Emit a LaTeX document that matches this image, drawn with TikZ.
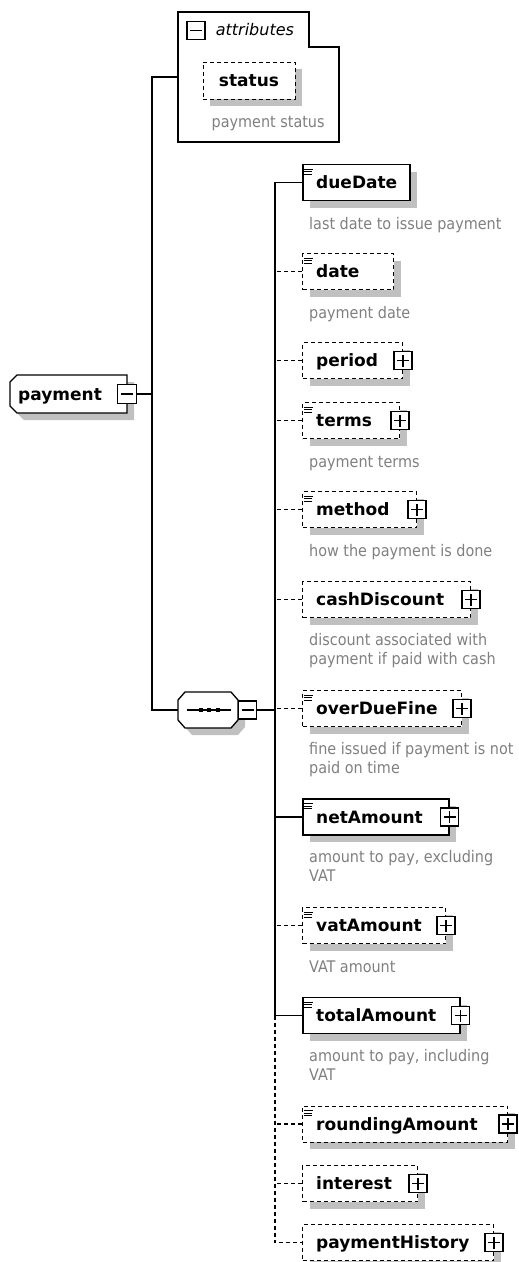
\documentclass[tikz,border=0pt]{standalone}
\usepackage{fontspec}
\setmainfont{DejaVu Sans}
\newfontfamily\condfont{DejaVu Sans Condensed}
\usepackage{tikz}
\usetikzlibrary{positioning,shadows}

\definecolor{shadowgray}{HTML}{C0C0C0}
\definecolor{doctext}{HTML}{808080}

\begin{document}
\begin{tikzpicture}[
    x=1pt, y=-1pt,
    shadowed/.style={drop shadow={shadow xshift=7pt, shadow yshift=-7pt, fill=shadowgray, opacity=1}},
    box/.style={rectangle, fill=white, shadowed, inner sep=0pt, minimum height=36pt, anchor=west},
    elem/.style={box, draw, line width=1.8pt},
    optelem/.style={box, draw, dash pattern=on 4pt off 3pt, line width=1pt},
    docicon/.style={path picture={
        \draw[solid, line width=0.9pt] ([shift={(1.5pt,-4.5pt)}]path picture bounding box.north west) -- ++(8.5pt,0pt);
        \draw[solid, line width=0.9pt] ([shift={(1.5pt,-7.2pt)}]path picture bounding box.north west) -- ++(7.5pt,0pt);
        \draw[solid, line width=0.9pt] ([shift={(1.5pt,-9.9pt)}]path picture bounding box.north west) -- ++(7.5pt,0pt);}},
    elemname/.style={font=\fontsize{17}{20}\selectfont\bfseries, inner sep=0pt, text height=12.4pt, text depth=0pt},
    elemdoc/.style={font=\condfont\fontsize{16}{19}\selectfont, text=doctext, inner sep=0pt, align=left, execute at begin node=\strut},
    pmbox/.style={rectangle, draw, solid, fill=white, line width=1.3pt, minimum size=18pt, inner sep=0pt},
    plusbox/.style={pmbox, path picture={
        \draw[solid, line width=1.2pt] ([xshift=-6pt]path picture bounding box.center) -- ([xshift=6pt]path picture bounding box.center);
        \draw[solid, line width=1.2pt] ([yshift=-6pt]path picture bounding box.center) -- ([yshift=6pt]path picture bounding box.center);}},
    minusbox/.style={pmbox, path picture={
        \draw[solid, line width=1.2pt] ([xshift=-6pt]path picture bounding box.center) -- ([xshift=6pt]path picture bounding box.center);}},
    frame/.style={rectangle, inner sep=0pt, outer sep=0pt},
    outline/.style={draw, fill=white, shadowed, line width=1.3pt},
    link/.style={line width=1.3pt},
    optlink/.style={link, dash pattern=on 4pt off 3pt},
    attrtitle/.style={font=\fontsize{16}{19}\selectfont\itshape, inner sep=0pt, text height=12pt, text depth=3pt}
  ]
    \useasboundingbox (0,0) rectangle (519,1262);

    % attribute group
    \node[frame, minimum width=161pt, minimum height=130pt, anchor=north west] (attr) at (178,12) {};
    \draw[link, fill=white] (attr.north west) -- ++(131,0) -- ++(0,35) -| (attr.south east) -- (attr.south west) -- cycle;
    \node[minusbox] (attrMinus) at (196,30.5) {};
    \node[attrtitle, right=10pt of attrMinus] (attrTitle) {attributes};
    \node[optelem, anchor=center, minimum width=92pt, minimum height=37pt] (status) at (249,80.5) {};
    \node[elemname] (statusName) at (status) {status};
    \node[elemdoc, below right=14.7pt and 9pt of status.south west] (statusDoc) {payment status};

    % root element
    \node[frame, minimum width=117pt, minimum height=38pt] (payment) at (68.5,394) {};
    \draw[outline] ([xshift=7pt]payment.north west) -- (payment.north east) -- (payment.south east)
        -- ([xshift=7pt]payment.south west) -- ([yshift=7pt]payment.south west) -- ([yshift=-7pt]payment.north west) -- cycle;
    \node[elemname, right=8pt of payment.west] (paymentName) {payment};
    \node[minusbox, minimum size=19pt] (payMinus) at (payment.east) {};

    % sequence compositor
    \node[frame, minimum width=60pt, minimum height=36pt] (seq) at (208,710) {};
    \draw[outline] ([xshift=7pt]seq.north west) -- ([xshift=-7pt]seq.north east) -- ([yshift=-8pt]seq.north east)
        -- ([yshift=8pt]seq.south east) -- ([xshift=-7pt]seq.south east) -- ([xshift=7pt]seq.south west)
        -- ([yshift=8pt]seq.south west) -- ([yshift=-8pt]seq.north west) -- cycle;
    \node[minusbox, anchor=west] (seqMinus) at (seq.east) {};
    \draw[link] ([xshift=-21pt]seq.center) -- ([xshift=23pt]seq.center);
    \fill ([shift={(-9pt,-2pt)}]seq.center) rectangle ++(4pt,4pt);
    \fill ([shift={(-1pt,-2pt)}]seq.center) rectangle ++(4pt,4pt);
    \fill ([shift={(8pt,-2pt)}]seq.center) rectangle ++(4pt,4pt);

    \coordinate (root) at (152,77);
    \coordinate (trunk) at (275,183);

    % child elements
    \node[elem, docicon, minimum width=107pt] (dueDate) at (302,182.5) {};
    \node[elemname, right=14pt of dueDate.west] (dueDateName) {dueDate};
    \node[elemdoc, below right=14.7pt and 7pt of dueDate.south west] (dueDateDoc) {last date to issue payment};

    \node[optelem, docicon, minimum width=91pt] (date) at (302,271.5) {};
    \node[elemname, right=14pt of date.west] (dateName) {date};
    \node[elemdoc, below right=14.7pt and 7pt of date.south west] (dateDoc) {payment date};

    \node[optelem, minimum width=100pt] (period) at (302,360.5) {};
    \node[elemname, right=14pt of period.west] (periodName) {period};
    \node[plusbox] (periodPlus) at (period.east) {};

    \node[optelem, docicon, minimum width=97pt] (terms) at (302,420.5) {};
    \node[elemname, right=14pt of terms.west] (termsName) {terms};
    \node[plusbox] (termsPlus) at (terms.east) {};
    \node[elemdoc, below right=14.7pt and 7pt of terms.south west] (termsDoc) {payment terms};

    \node[optelem, docicon, minimum width=114pt] (method) at (302,509.5) {};
    \node[elemname, right=14pt of method.west] (methodName) {method};
    \node[plusbox] (methodPlus) at (method.east) {};
    \node[elemdoc, below right=14.7pt and 7pt of method.south west] (methodDoc) {how the payment is done};

    \node[optelem, minimum width=168pt] (cashDiscount) at (302,599.5) {};
    \node[elemname, right=14pt of cashDiscount.west] (cashDiscountName) {cashDiscount};
    \node[plusbox] (cashDiscountPlus) at (cashDiscount.east) {};
    \node[elemdoc, below right=14.7pt and 7pt of cashDiscount.south west] (cashDiscountDoc) {discount associated with\\payment if paid with cash};

    \node[optelem, docicon, minimum width=159pt] (overDueFine) at (302,708.5) {};
    \node[elemname, right=14pt of overDueFine.west] (overDueFineName) {overDueFine};
    \node[plusbox] (overDueFinePlus) at (overDueFine.east) {};
    \node[elemdoc, below right=14.7pt and 7pt of overDueFine.south west] (overDueFineDoc) {fine issued if payment is not\\paid on time};

    \node[elem, docicon, minimum width=146pt] (netAmount) at (302,817) {};
    \node[elemname, right=14pt of netAmount.west] (netAmountName) {netAmount};
    \node[plusbox] (netAmountPlus) at (netAmount.east) {};
    \node[elemdoc, below right=14.7pt and 7pt of netAmount.south west] (netAmountDoc) {amount to pay, excluding\\VAT};

    \node[optelem, docicon, minimum width=143pt] (vatAmount) at (302,925.5) {};
    \node[elemname, right=14pt of vatAmount.west] (vatAmountName) {vatAmount};
    \node[plusbox] (vatAmountPlus) at (vatAmount.east) {};
    \node[elemdoc, below right=14.7pt and 7pt of vatAmount.south west] (vatAmountDoc) {VAT amount};

    \node[elem, docicon, minimum width=157pt] (totalAmount) at (302,1015.5) {};
    \node[elemname, right=14pt of totalAmount.west] (totalAmountName) {totalAmount};
    \node[plusbox] (totalAmountPlus) at (totalAmount.east) {};
    \node[elemdoc, below right=14.7pt and 7pt of totalAmount.south west] (totalAmountDoc) {amount to pay, including\\VAT};

    \node[optelem, docicon, minimum width=205pt] (roundingAmount) at (302,1124) {};
    \node[elemname, right=14pt of roundingAmount.west] (roundingAmountName) {roundingAmount};
    \node[plusbox] (roundingAmountPlus) at (roundingAmount.east) {};

    \node[optelem, minimum width=115pt] (interest) at (302,1183.5) {};
    \node[elemname, right=14pt of interest.west] (interestName) {interest};
    \node[plusbox] (interestPlus) at (interest.east) {};

    \node[optelem, minimum width=191pt] (paymentHistory) at (302,1242.5) {};
    \node[elemname, right=14pt of paymentHistory.west] (paymentHistoryName) {paymentHistory};
    \node[plusbox] (paymentHistoryPlus) at (paymentHistory.east) {};

    % connectors
    \draw[link] (attr.west) -- (attr.west -| root) -- (seq.west -| root) -- (seq.west);
    \draw[link] (payMinus.east) -- (payMinus.east -| root);
    \draw[link] (seqMinus.east) -- (seqMinus.east -| trunk);
    \draw[link] (dueDate.west) -- (dueDate.west -| trunk) -- (totalAmount.west -| trunk) -- (totalAmount.west);
    \draw[optlink] (totalAmount.west -| trunk) -- (paymentHistory.west -| trunk) -- (paymentHistory.west);
    \draw[optlink] (date.west) -- (date.west -| trunk);
    \draw[optlink] (period.west) -- (period.west -| trunk);
    \draw[optlink] (terms.west) -- (terms.west -| trunk);
    \draw[optlink] (method.west) -- (method.west -| trunk);
    \draw[optlink] (cashDiscount.west) -- (cashDiscount.west -| trunk);
    \draw[optlink] (overDueFine.west) -- (overDueFine.west -| trunk);
    \draw[link] (netAmount.west) -- (netAmount.west -| trunk);
    \draw[optlink] (vatAmount.west) -- (vatAmount.west -| trunk);
    \draw[optlink] (roundingAmount.west) -- (roundingAmount.west -| trunk);
    \draw[optlink] (interest.west) -- (interest.west -| trunk);
  \end{tikzpicture}
\end{document}
